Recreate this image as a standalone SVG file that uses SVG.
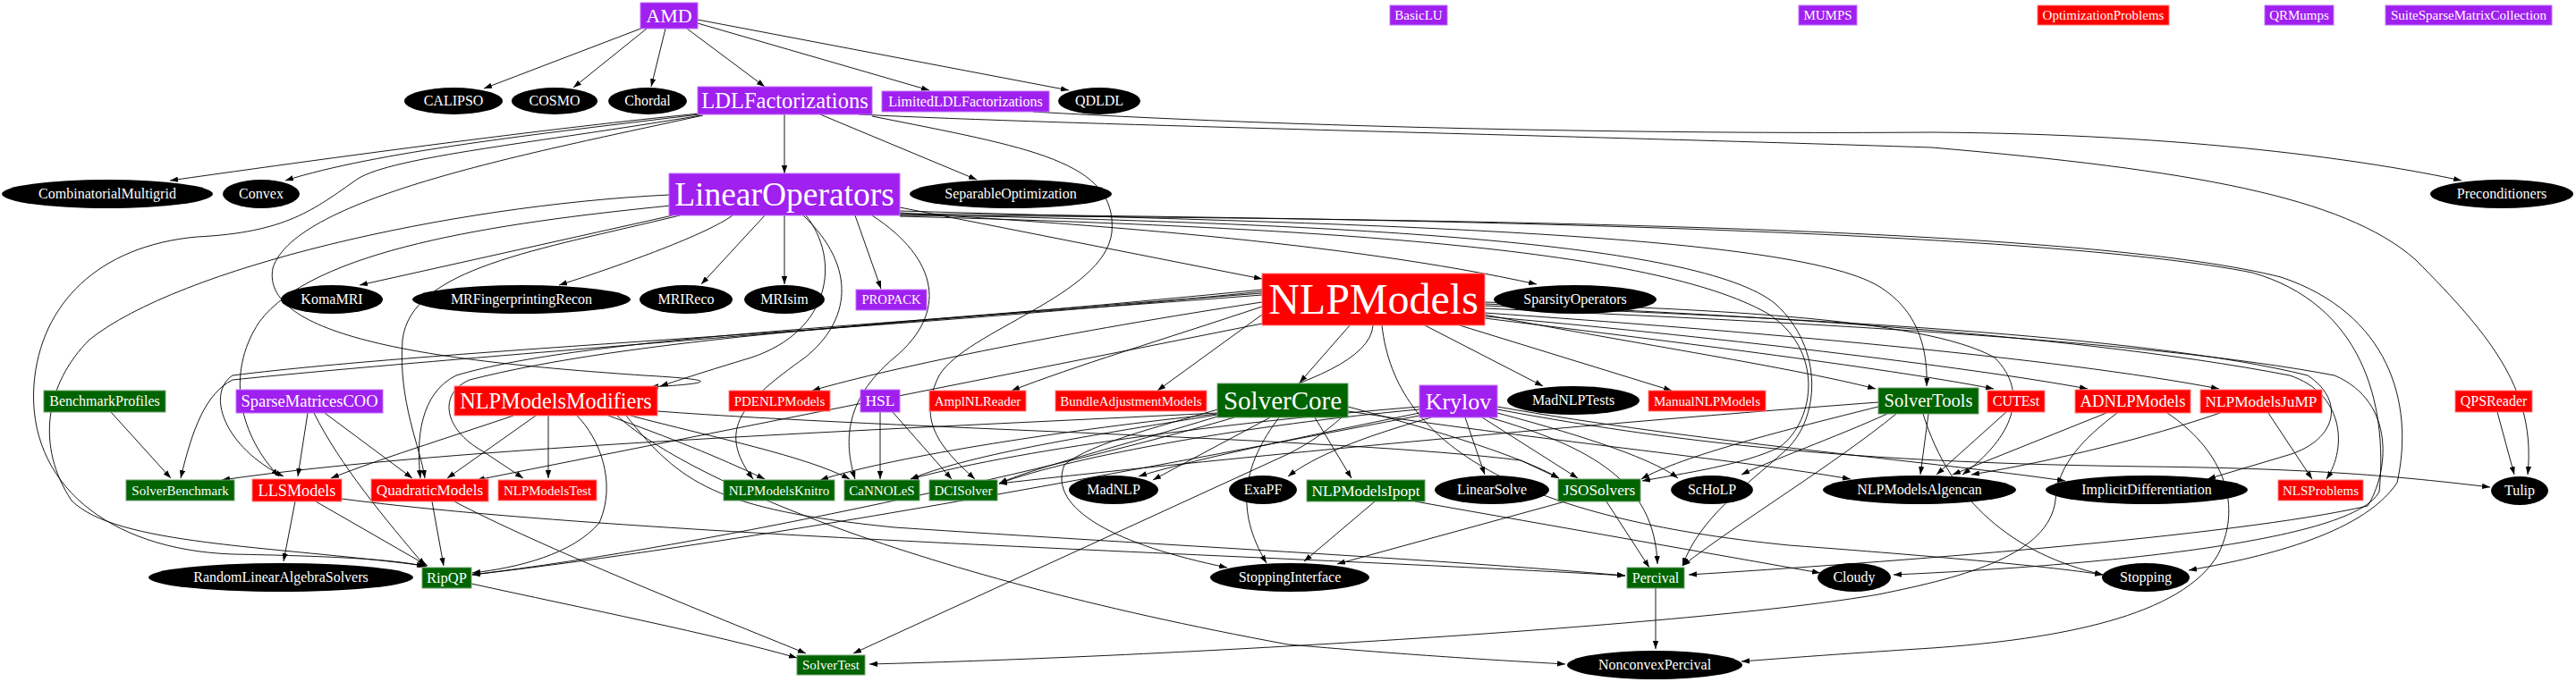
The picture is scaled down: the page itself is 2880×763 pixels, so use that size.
<svg xmlns="http://www.w3.org/2000/svg" width="2880" height="763" viewBox="0 0 2880 763">
<style>
text{font-family:"Liberation Serif","Times New Roman",serif;fill:#fff;text-anchor:middle}
.pu{fill:#a020f0;stroke:#c070f8;stroke-width:1}
.rd{fill:#ff0000;stroke:#ff8080;stroke-width:1}
.gr{fill:#006400;stroke:#70a070;stroke-width:1}
.el{fill:#000}
.s15{font-size:15px}
.s16{font-size:16px}
#edges path{fill:none;stroke:#000;stroke-width:0.9;marker-end:url(#ah)}
</style>
<defs>
<marker id="ah" markerUnits="userSpaceOnUse" viewBox="0 0 10 7" markerWidth="9" markerHeight="6.3" refX="10" refY="3.5" orient="auto"><path d="M0,0 L10,3.5 L0,7 z" fill="#000"/></marker>
</defs>
<rect width="2880" height="763" fill="#fff"/>
<g id="edges">
<path d="M719,31 L541,99"/>
<path d="M723,32 L641,98"/>
<path d="M744,32 L728,97"/>
<path d="M768,32 L855,97"/>
<path d="M780,26 L1039,101"/>
<path d="M780,22 L1195,101"/>
<path d="M877,128 L877,194"/>
<path d="M917,128 L1092,201"/>
<path d="M782,127 C650,140 450,165 190,202"/>
<path d="M782,128 C600,150 420,170 319,202"/>
<path d="M784,129 C600,160 440,175 400,200 C350,235 320,260 220,265 C110,275 45,340 38,430 C30,540 120,615 260,620 C360,622 440,625 477,634"/>
<path d="M786,129 C600,170 330,220 305,300 C290,380 500,405 720,420 C790,424 815,428 727,433"/>
<path d="M1155,125 C1500,145 1900,150 2160,148 C2450,150 2650,180 2752,202"/>
<path d="M960,128 C1200,140 1700,150 2160,165 C2450,190 2620,220 2700,290 C2790,380 2835,440 2826,531"/>
<path d="M975,130 C1150,165 1250,180 1243,260 C1235,330 1080,370 1050,420 C1025,470 1050,500 1090,536"/>
<path d="M752,241 L402,319"/>
<path d="M819,241 C790,262 700,295 625,319"/>
<path d="M855,241 L784,318"/>
<path d="M877,241 L877,318"/>
<path d="M956,241 L985,323"/>
<path d="M1006,232 L1411,312"/>
<path d="M1006,238 C1200,250 1500,270 1718,318"/>
<path d="M1006,236 C1500,250 2000,260 2100,320 C2150,350 2155,400 2154,432"/>
<path d="M901,241 C940,290 930,370 840,400 C790,415 760,425 738,432"/>
<path d="M898,241 C960,300 950,360 900,400 C830,450 800,480 842,536"/>
<path d="M750,230 C550,250 350,280 290,360 C250,420 270,490 312,533"/>
<path d="M760,241 C600,280 460,300 450,380 C445,450 470,500 475,535"/>
<path d="M748,218 C500,230 200,300 100,380 C50,430 40,500 80,560 C130,610 300,610 475,633"/>
<path d="M975,241 C1050,290 1060,350 1000,400 C940,450 945,500 956,536"/>
<path d="M1006,240 C1500,250 1900,270 1985,340 C2040,390 2035,470 1995,505 C1950,545 1900,580 1881,633"/>
<path d="M1006,242 C1500,255 1850,280 1975,350 C2040,390 2030,470 1990,500 C1950,520 1880,530 1836,538"/>
<path d="M1006,241 C1800,245 2350,260 2550,310 C2670,350 2700,450 2680,540 C2640,600 2520,625 2447,638"/>
<path d="M1006,239 C1700,245 2300,262 2518,305 C2640,340 2670,450 2660,550 C2630,610 2300,635 2117,643"/>
<path d="M1509,364 L1453,428"/>
<path d="M1660,352 C1800,380 2000,410 2097,435"/>
<path d="M1660,356 C1850,380 2100,410 2229,435"/>
<path d="M1660,354 C1900,375 2200,410 2334,435"/>
<path d="M1660,350 C1950,370 2300,400 2481,435"/>
<path d="M1632,364 L1869,437"/>
<path d="M1593,364 L1725,432"/>
<path d="M1411,352 L1294,437"/>
<path d="M1411,343 C1300,380 1200,410 1131,437"/>
<path d="M1411,338 C1200,370 1000,410 908,437"/>
<path d="M1411,326 C1000,370 500,390 260,420 C230,440 250,500 317,533"/>
<path d="M1411,330 C1000,362 650,378 510,420 C470,440 465,490 470,535"/>
<path d="M1411,328 C1000,360 700,380 525,425 C490,440 495,480 540,505 L585,535"/>
<path d="M1411,362 L533,537"/>
<path d="M1411,324 C1000,365 500,400 260,425 C230,440 215,480 202,535"/>
<path d="M1660,340 C1900,350 2300,370 2560,420 C2620,440 2625,500 2601,536"/>
<path d="M1660,345 C2000,360 2400,380 2610,420 C2680,450 2670,530 2647,566 C2500,600 2100,630 1888,643"/>
<path d="M1660,342 C2000,355 2400,375 2580,420 C2625,450 2610,495 2555,510 L2468,536"/>
<path d="M1660,338 C1900,345 2150,355 2230,400 C2270,440 2250,490 2194,531"/>
<path d="M1535,364 C1530,440 1250,470 1190,520 C1170,570 1250,610 1372,635"/>
<path d="M1545,364 C1560,500 1700,580 2000,610 C2200,625 2300,635 2351,643"/>
<path d="M1361,462 C1000,480 500,500 248,537"/>
<path d="M1361,463 C1200,480 1000,510 917,537"/>
<path d="M1361,464 C1200,490 1080,510 1018,536"/>
<path d="M1361,466 C1250,500 1150,525 1117,541"/>
<path d="M1420,467 L1289,537"/>
<path d="M1380,467 C1200,520 800,610 528,643"/>
<path d="M1470,467 L1511,535"/>
<path d="M1507,455 C1600,480 1700,510 1743,535"/>
<path d="M1500,467 C1480,485 1460,498 1440,508 L954,731"/>
<path d="M1430,467 C1390,520 1380,570 1416,630"/>
<path d="M1507,460 C1700,490 1950,515 2069,536"/>
<path d="M1638,467 L1660,531"/>
<path d="M1657,467 L1764,535"/>
<path d="M1600,467 C1520,490 1470,510 1440,533"/>
<path d="M1674,462 C1780,490 1850,515 1876,535"/>
<path d="M1674,455 C1900,495 2150,515 2309,538"/>
<path d="M1674,458 C1900,500 2100,518 2400,522 C2600,524 2700,535 2784,545"/>
<path d="M1587,455 C1400,470 1150,500 1018,536"/>
<path d="M1587,458 C1400,475 1200,510 1117,541"/>
<path d="M1665,467 C1780,500 1850,540 1853,631"/>
<path d="M1587,465 C1400,500 900,600 528,643"/>
<path d="M1587,462 C1450,490 1330,515 1273,533"/>
<path d="M2100,455 C2000,480 1880,510 1835,536"/>
<path d="M2120,463 C2050,520 1950,580 1881,633"/>
<path d="M2156,463 L2147,531"/>
<path d="M2110,463 C2050,490 1980,515 1947,531"/>
<path d="M2150,463 C2180,560 2250,620 2351,643"/>
<path d="M2100,450 C1700,480 1300,520 1117,541"/>
<path d="M2355,462 L2183,531"/>
<path d="M2367,462 C2330,490 2300,520 2298,560 C2290,620 2200,645 2100,665 C1900,700 1300,735 972,743"/>
<path d="M2423,462 C2480,500 2510,560 2480,620 C2440,690 2300,715 2160,725 C2050,732 2000,736 1947,740"/>
<path d="M2482,462 C2400,490 2300,515 2204,531"/>
<path d="M2536,462 L2585,536"/>
<path d="M2243,461 L2165,531"/>
<path d="M2792,461 L2811,531"/>
<path d="M1537,561 L1458,628"/>
<path d="M1582,561 L2035,641"/>
<path d="M1750,561 L1495,631"/>
<path d="M1796,561 L1844,635"/>
<path d="M1851,658 L1851,726"/>
<path d="M330,561 L317,628"/>
<path d="M353,561 L478,633"/>
<path d="M483,561 L496,633"/>
<path d="M508,561 C600,610 800,690 901,731"/>
<path d="M527,653 C650,680 800,710 891,736"/>
<path d="M344,462 L333,533"/>
<path d="M351,462 C380,520 430,580 475,633"/>
<path d="M363,462 L461,535"/>
<path d="M574,465 C500,490 420,515 370,535"/>
<path d="M599,465 L500,535"/>
<path d="M613,465 L613,535"/>
<path d="M645,465 C670,490 690,540 670,585 C640,620 580,635 528,641"/>
<path d="M680,465 C750,490 800,510 855,536"/>
<path d="M705,465 C800,490 900,510 950,536"/>
<path d="M735,460 C1000,480 1500,490 1700,515 L1743,535"/>
<path d="M700,465 C760,540 800,570 1000,590 C1300,610 1600,625 1817,644"/>
<path d="M690,465 C760,530 1000,640 1440,721 C1600,735 1700,740 1750,743"/>
<path d="M382,558 C700,600 1400,620 1817,644"/>
<path d="M984,461 L984,536"/>
<path d="M998,461 L1064,536"/>
<path d="M124,461 L191,535"/>
</g>
<g id="n-AMD"><rect class="pu" x="716" y="3" width="64" height="29"/><text x="748" y="24.8" style="font-size:22px">AMD</text></g>
<g id="n-BasicLU"><rect class="pu" x="1554" y="6" width="64" height="22"/><text class="s15" x="1586" y="22">BasicLU</text></g>
<g id="n-MUMPS"><rect class="pu" x="2011" y="6" width="65" height="22"/><text class="s15" x="2043.5" y="22">MUMPS</text></g>
<g id="n-OptimizationProblems"><rect class="rd" x="2278" y="6" width="147" height="22"/><text class="s15" x="2351.5" y="22">OptimizationProblems</text></g>
<g id="n-QRMumps"><rect class="pu" x="2532" y="6" width="77" height="22"/><text class="s15" x="2570.5" y="22">QRMumps</text></g>
<g id="n-SuiteSparseMatrixCollection"><rect class="pu" x="2667" y="6" width="186" height="22"/><text class="s15" x="2760" y="22">SuiteSparseMatrixCollection</text></g>
<g id="n-CALIPSO"><ellipse class="el" cx="507" cy="113" rx="55" ry="15"/><text class="s16" x="507" y="118.3">CALIPSO</text></g>
<g id="n-COSMO"><ellipse class="el" cx="620" cy="113" rx="48" ry="15"/><text class="s16" x="620" y="118.3">COSMO</text></g>
<g id="n-Chordal"><ellipse class="el" cx="724" cy="113" rx="44" ry="15"/><text class="s16" x="724" y="118.3">Chordal</text></g>
<g id="n-LDLFactorizations"><rect class="pu" x="780" y="97" width="195" height="31"/><text x="877.5" y="120.6" style="font-size:24.5px">LDLFactorizations</text></g>
<g id="n-LimitedLDLFactorizations"><rect class="pu" x="986" y="102" width="187" height="23"/><text class="s16" x="1079.5" y="118.8">LimitedLDLFactorizations</text></g>
<g id="n-QDLDL"><ellipse class="el" cx="1229" cy="113" rx="46" ry="15"/><text class="s16" x="1229" y="118.3">QDLDL</text></g>
<g id="n-CombinatorialMultigrid"><ellipse class="el" cx="120" cy="217" rx="118" ry="16"/><text class="s16" x="120" y="222.3">CombinatorialMultigrid</text></g>
<g id="n-Convex"><ellipse class="el" cx="292" cy="217" rx="43" ry="16"/><text class="s16" x="292" y="222.3">Convex</text></g>
<g id="n-LinearOperators"><rect class="pu" x="748" y="194" width="258" height="47"/><text x="877" y="229.9" style="font-size:37.5px">LinearOperators</text></g>
<g id="n-SeparableOptimization"><ellipse class="el" cx="1130" cy="217" rx="113" ry="16"/><text class="s16" x="1130" y="222.3">SeparableOptimization</text></g>
<g id="n-Preconditioners"><ellipse class="el" cx="2797" cy="217" rx="80" ry="16"/><text class="s16" x="2797" y="222.3">Preconditioners</text></g>
<g id="n-KomaMRI"><ellipse class="el" cx="371" cy="335" rx="57" ry="16"/><text class="s16" x="371" y="340.3">KomaMRI</text></g>
<g id="n-MRFingerprintingRecon"><ellipse class="el" cx="583" cy="335" rx="122" ry="16"/><text class="s16" x="583" y="340.3">MRFingerprintingRecon</text></g>
<g id="n-MRIReco"><ellipse class="el" cx="767" cy="335" rx="52" ry="16"/><text class="s16" x="767" y="340.3">MRIReco</text></g>
<g id="n-MRIsim"><ellipse class="el" cx="877" cy="335" rx="45" ry="16"/><text class="s16" x="877" y="340.3">MRIsim</text></g>
<g id="n-PROPACK"><rect class="pu" x="957" y="324" width="79" height="23"/><text x="996.5" y="340.3" style="font-size:14.6px">PROPACK</text></g>
<g id="n-NLPModels"><rect class="rd" x="1411" y="306" width="249" height="58"/><text x="1535.5" y="350.8" style="font-size:48px">NLPModels</text></g>
<g id="n-SparsityOperators"><ellipse class="el" cx="1761" cy="335" rx="91" ry="16"/><text class="s16" x="1761" y="340.3">SparsityOperators</text></g>
<g id="n-BenchmarkProfiles"><rect class="gr" x="49" y="437" width="136" height="24"/><text class="s16" x="117" y="454.3">BenchmarkProfiles</text></g>
<g id="n-SparseMatricesCOO"><rect class="pu" x="264" y="436" width="164" height="26"/><text x="346" y="455.1" style="font-size:18.5px">SparseMatricesCOO</text></g>
<g id="n-NLPModelsModifiers"><rect class="rd" x="508" y="432" width="227" height="33"/><text x="621.5" y="456.5" style="font-size:24.3px">NLPModelsModifiers</text></g>
<g id="n-PDENLPModels"><rect class="rd" x="815" y="437" width="113" height="23"/><text class="s15" x="871.5" y="453.5">PDENLPModels</text></g>
<g id="n-HSL"><rect class="pu" x="962" y="436" width="44" height="25"/><text x="984" y="454.3" style="font-size:17.5px">HSL</text></g>
<g id="n-AmplNLReader"><rect class="rd" x="1039" y="437" width="108" height="23"/><text class="s15" x="1093" y="453.5">AmplNLReader</text></g>
<g id="n-BundleAdjustmentModels"><rect class="rd" x="1180" y="437" width="169" height="23"/><text class="s15" x="1264.5" y="453.5">BundleAdjustmentModels</text></g>
<g id="n-SolverCore"><rect class="gr" x="1361" y="429" width="146" height="38"/><text x="1434" y="457.6" style="font-size:29px">SolverCore</text></g>
<g id="n-Krylov"><rect class="pu" x="1587" y="431" width="87" height="36"/><text x="1630.5" y="457.6" style="font-size:26px">Krylov</text></g>
<g id="n-MadNLPTests"><ellipse class="el" cx="1759" cy="448" rx="74" ry="16"/><text class="s16" x="1759" y="453.3">MadNLPTests</text></g>
<g id="n-ManualNLPModels"><rect class="rd" x="1843" y="437" width="131" height="23"/><text class="s15" x="1908.5" y="453.5">ManualNLPModels</text></g>
<g id="n-SolverTools"><rect class="gr" x="2100" y="434" width="112" height="29"/><text x="2156" y="455.3" style="font-size:20.5px">SolverTools</text></g>
<g id="n-CUTEst"><rect class="rd" x="2222" y="437" width="64" height="24"/><text class="s16" x="2254" y="454.3">CUTEst</text></g>
<g id="n-ADNLPModels"><rect class="rd" x="2320" y="436" width="129" height="26"/><text x="2384.5" y="455.1" style="font-size:18.6px">ADNLPModels</text></g>
<g id="n-NLPModelsJuMP"><rect class="rd" x="2460" y="436" width="136" height="26"/><text x="2528" y="454.7" style="font-size:17.3px">NLPModelsJuMP</text></g>
<g id="n-QPSReader"><rect class="rd" x="2745" y="437" width="86" height="24"/><text class="s16" x="2788" y="454.3">QPSReader</text></g>
<g id="n-SolverBenchmark"><rect class="gr" x="141" y="537" width="121" height="23"/><text class="s15" x="201.5" y="553.5">SolverBenchmark</text></g>
<g id="n-LLSModels"><rect class="rd" x="282" y="536" width="100" height="25"/><text x="332" y="554.5" style="font-size:18.2px">LLSModels</text></g>
<g id="n-QuadraticModels"><rect class="rd" x="415" y="536" width="131" height="25"/><text x="480.5" y="554.2" style="font-size:17.2px">QuadraticModels</text></g>
<g id="n-NLPModelsTest"><rect class="rd" x="557" y="537" width="110" height="23"/><text class="s15" x="612" y="553.5">NLPModelsTest</text></g>
<g id="n-NLPModelsKnitro"><rect class="gr" x="809" y="537" width="124" height="23"/><text class="s15" x="871" y="553.5">NLPModelsKnitro</text></g>
<g id="n-CaNNOLeS"><rect class="gr" x="944" y="537" width="84" height="23"/><text class="s15" x="986" y="553.5">CaNNOLeS</text></g>
<g id="n-DCISolver"><rect class="gr" x="1039" y="537" width="76" height="23"/><text class="s15" x="1077" y="553.5">DCISolver</text></g>
<g id="n-MadNLP"><ellipse class="el" cx="1245" cy="548" rx="50" ry="16"/><text class="s16" x="1245" y="553.3">MadNLP</text></g>
<g id="n-ExaPF"><ellipse class="el" cx="1412" cy="548" rx="38" ry="16"/><text class="s16" x="1412" y="553.3">ExaPF</text></g>
<g id="n-NLPModelsIpopt"><rect class="gr" x="1461" y="537" width="132" height="24"/><text x="1527" y="554.7" style="font-size:17.3px">NLPModelsIpopt</text></g>
<g id="n-LinearSolve"><ellipse class="el" cx="1668" cy="548" rx="64" ry="16"/><text class="s16" x="1668" y="553.3">LinearSolve</text></g>
<g id="n-JSOSolvers"><rect class="gr" x="1742" y="536" width="92" height="25"/><text x="1788" y="554.2" style="font-size:17.3px">JSOSolvers</text></g>
<g id="n-ScHoLP"><ellipse class="el" cx="1914" cy="548" rx="46" ry="16"/><text class="s16" x="1914" y="553.3">ScHoLP</text></g>
<g id="n-NLPModelsAlgencan"><ellipse class="el" cx="2146" cy="548" rx="108" ry="16"/><text class="s16" x="2146" y="553.3">NLPModelsAlgencan</text></g>
<g id="n-ImplicitDifferentiation"><ellipse class="el" cx="2400" cy="548" rx="113" ry="16"/><text class="s16" x="2400" y="553.3">ImplicitDifferentiation</text></g>
<g id="n-NLSProblems"><rect class="rd" x="2547" y="537" width="95" height="23"/><text class="s15" x="2594.5" y="553.5">NLSProblems</text></g>
<g id="n-Tulip"><ellipse class="el" cx="2817" cy="549" rx="32" ry="16"/><text class="s16" x="2817" y="554.3">Tulip</text></g>
<g id="n-RandomLinearAlgebraSolvers"><ellipse class="el" cx="314" cy="646" rx="148" ry="16"/><text class="s16" x="314" y="651.3">RandomLinearAlgebraSolvers</text></g>
<g id="n-RipQP"><rect class="gr" x="472" y="635" width="55" height="23"/><text x="499.5" y="651.9" style="font-size:16.5px">RipQP</text></g>
<g id="n-StoppingInterface"><ellipse class="el" cx="1442" cy="646" rx="89" ry="16"/><text class="s16" x="1442" y="651.3">StoppingInterface</text></g>
<g id="n-Percival"><rect class="gr" x="1819" y="635" width="64" height="23"/><text class="s16" x="1851" y="651.8">Percival</text></g>
<g id="n-Cloudy"><ellipse class="el" cx="2073" cy="646" rx="41" ry="16"/><text class="s16" x="2073" y="651.3">Cloudy</text></g>
<g id="n-Stopping"><ellipse class="el" cx="2399" cy="646" rx="49" ry="16"/><text class="s16" x="2399" y="651.3">Stopping</text></g>
<g id="n-SolverTest"><rect class="gr" x="891" y="733" width="76" height="22"/><text class="s15" x="929" y="749">SolverTest</text></g>
<g id="n-NonconvexPercival"><ellipse class="el" cx="1850" cy="744" rx="98" ry="16"/><text class="s16" x="1850" y="749.3">NonconvexPercival</text></g>
</svg>
